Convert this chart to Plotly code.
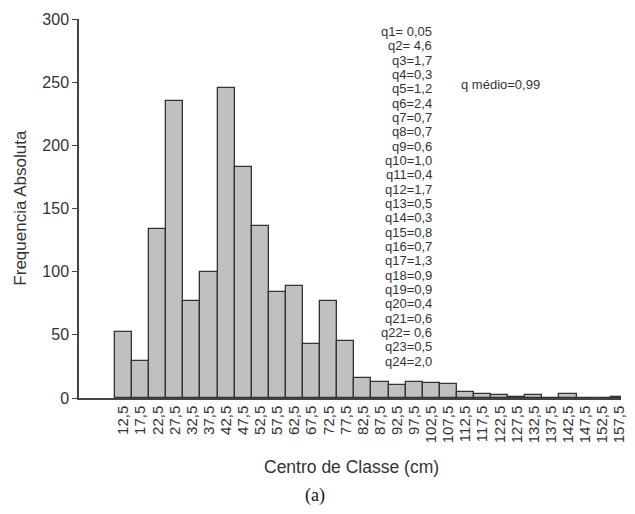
import plotly.graph_objects as go

# ---- data ----
class_centers = [12.5, 17.5, 22.5, 27.5, 32.5, 37.5, 42.5, 47.5, 52.5, 57.5,
                 62.5, 67.5, 72.5, 77.5, 82.5, 87.5, 92.5, 97.5, 102.5, 107.5,
                 112.5, 117.5, 122.5, 127.5, 132.5, 137.5, 142.5, 147.5, 152.5, 157.5]
tick_labels = ["12,5", "17,5", "22,5", "27,5", "32,5", "37,5", "42,5", "47,5", "52,5", "57,5",
               "62,5", "67,5", "72,5", "77,5", "82,5", "87,5", "92,5", "97,5", "102,5", "107,5",
               "112,5", "117,5", "122,5", "127,5", "132,5", "137,5", "142,5", "147,5", "152,5", "157,5"]
frequencies = [52, 29, 134, 235, 77, 100, 245, 183, 136, 84,
               89, 43, 77, 45, 16, 13, 10, 13, 12, 11,
               5, 3, 2, 1, 2, 0, 3, 0, 0, 1]
q_labels = ["q1= 0,05", "q2= 4,6", "q3=1,7", "q4=0,3", "q5=1,2", "q6=2,4",
            "q7=0,7", "q8=0,7", "q9=0,6", "q10=1,0", "q11=0,4", "q12=1,7",
            "q13=0,5", "q14=0,3", "q15=0,8", "q16=0,7", "q17=1,3", "q18=0,9",
            "q19=0,9", "q20=0,4", "q21=0,6", "q22= 0,6", "q23=0,5", "q24=2,0"]
q_mean_label = "q médio=0,99"
y_ticks = [0, 50, 100, 150, 200, 250, 300]

TXT = "#333333"
AX = "#444444"
FONT = "Liberation Sans"

# page body has an 8px margin on every side; size the figure so the page
# does not overflow the 635x514 window (avoids scrollbars / clipping)
OFF = 8
W, H = 635 - 2 * OFF, 514 - 2 * OFF
PLOT_LEFT, PLOT_TOP, PLOT_BOTTOM = 79, 19, 398   # page pixels
L, R = PLOT_LEFT - OFF, 0
T = PLOT_TOP - OFF
B = H - (PLOT_BOTTOM - OFF)
pw, ph = W - L - R, H - T - B

def px(x):  # page pixel x -> paper
    return (x - OFF - L) / pw

def py(y):  # page pixel y -> paper
    return (H - (y - OFF) - B) / ph

fig = go.Figure()
fig.add_trace(go.Bar(
    x=class_centers, y=frequencies, width=5,
    marker=dict(color="#c0c0c0", line=dict(color="#333333", width=1.3)),
    showlegend=False, hoverinfo="x+y",
))

annotations = []
for i, lab in enumerate(q_labels):
    annotations.append(dict(
        x=px(438), y=290 - i * 11.34, xref="paper", yref="y", text=lab,
        showarrow=False, xanchor="right", yanchor="middle",
        font=dict(family=FONT, size=13, color=TXT)))
annotations.append(dict(
    x=px(463), y=248, xref="paper", yref="y", text=q_mean_label,
    showarrow=False, xanchor="left", yanchor="middle",
    font=dict(family=FONT, size=13, color=TXT)))
annotations.append(dict(
    x=px(355), y=py(467), xref="paper", yref="paper", text="Centro de Classe (cm)",
    showarrow=False, xanchor="center", yanchor="middle",
    font=dict(family=FONT, size=17.5, color=TXT)))
annotations.append(dict(
    x=px(19), y=py(208), xref="paper", yref="paper", text="Frequencia Absoluta",
    textangle=-90, showarrow=False, xanchor="center", yanchor="middle",
    font=dict(family=FONT, size=17, color=TXT)))
annotations.append(dict(
    x=px(318), y=py(495), xref="paper", yref="paper", text="(a)",
    showarrow=False, xanchor="center", yanchor="middle",
    font=dict(family="Liberation Serif", size=18, color="#111111")))

fig.update_layout(
    width=W, height=H,
    margin=dict(l=L, r=R, t=T, b=B, pad=0),
    paper_bgcolor="white", plot_bgcolor="white",
    bargap=0,
    annotations=annotations,
    xaxis=dict(
        range=[-0.5, 160.3 - 8 / 3.458], tickmode="array", tickvals=class_centers, ticktext=tick_labels,
        tickangle=-90, ticks="", showgrid=False, zeroline=False,
        showline=True, linecolor=AX, linewidth=1.5,
        ticklabeloverflow="allow",
        tickfont=dict(family=FONT, size=15, color=TXT),
    ),
    yaxis=dict(
        range=[0, 300], tickmode="array", tickvals=y_ticks,
        ticks="outside", ticklen=5, tickcolor=AX, tickwidth=1.3,
        showgrid=False, zeroline=False,
        showline=True, linecolor=AX, linewidth=1.5,
        tickfont=dict(family=FONT, size=16, color=TXT),
    ),
)

fig.write_html("out.html")
